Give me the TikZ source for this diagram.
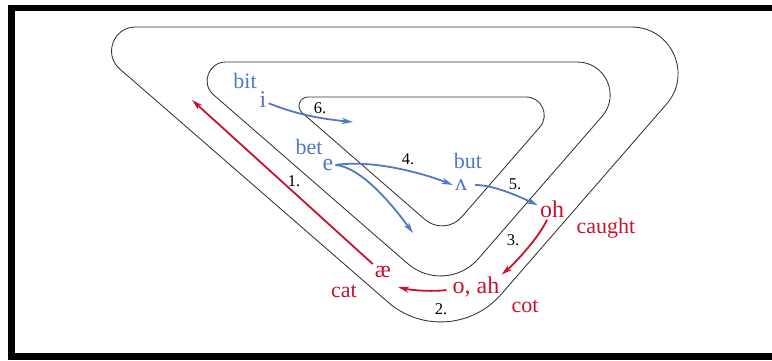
\documentclass[tikz,border=0pt]{standalone}
\usepackage{fontspec}
\setmainfont{Liberation Serif}
\usetikzlibrary{calc,arrows.meta}
\definecolor{vblue}{RGB}{80,120,198}
\definecolor{vred}{RGB}{200,18,48}
\tikzset{
  trackline/.style={line width=0.85pt, draw=black!80, line join=round},
  bword/.style={font=\fontsize{22}{24}\selectfont, text=vblue, inner sep=2pt},
  bsym/.style={font=\fontsize{24}{26}\selectfont, text=vblue, inner sep=2pt},
  rword/.style={font=\fontsize{22}{24}\selectfont, text=vred, inner sep=2pt},
  rsym/.style={font=\fontsize{24}{26}\selectfont, text=vred, inner sep=2pt},
  num/.style={font=\fontsize{16.5}{18}\selectfont, text=black, inner sep=1pt},
  barrow/.style={draw=vblue, line width=1.8pt, -{Stealth[length=11pt,width=6pt,inset=3pt]}},
  rarrow/.style={draw=vred, line width=1.8pt, -{Stealth[length=11pt,width=6pt,inset=3pt]}},
}
\newcommand\rtri[4]{%
  \path ($(#1A)!#2!(#1B)$) coordinate (#1Ab)
        ($(#1A)!#2!(#1C)$) coordinate (#1Ac)
        ($(#1B)!#3!(#1A)$) coordinate (#1Ba)
        ($(#1B)!#3!(#1C)$) coordinate (#1Bc)
        ($(#1C)!#4!(#1A)$) coordinate (#1Ca)
        ($(#1C)!#4!(#1B)$) coordinate (#1Cb);
  \draw[trackline] (#1Ab) -- (#1Ba)
    .. controls ($(#1Ba)!0.391!(#1B)$) and ($(#1Bc)!0.391!(#1B)$) .. (#1Bc)
    -- (#1Cb)
    .. controls ($(#1Cb)!0.552!(#1C)$) and ($(#1Ca)!0.552!(#1C)$) .. (#1Ca)
    -- (#1Ac)
    .. controls ($(#1Ac)!0.346!(#1A)$) and ($(#1Ab)!0.346!(#1A)$) .. (#1Ab) -- cycle;
}
\begin{document}
\begin{tikzpicture}[x=1pt,y=-1pt]
\useasboundingbox (0,0) rectangle (772,360);
% frame
\fill[black] (8,5) rectangle (772,11);
\fill[black] (8,5) rectangle (15,360);
\fill[black] (8,353) rectangle (772,360);
% tracks
\coordinate (oA) at (71.5,27);
\coordinate (oB) at (733.5,27);
\coordinate (oC) at (448.6,354.8);
\coordinate (mA) at (175.8,62);
\coordinate (mB) at (649.3,62);
\coordinate (mC) at (445.5,296.5);
\coordinate (iA) at (284,97);
\coordinate (iB) at (566,97);
\coordinate (iC) at (444.6,236.6);
\rtri{o}{64pt}{102pt}{80pt}
\rtri{m}{50pt}{72pt}{50pt}
\rtri{i}{24pt}{40pt}{26pt}
% labels
\node[bword] (bit) at (245,81) {bit};
\node[bsym] (vi) at (263,100) {i};
\node[num] (n6) at (320,108) {6.};
\node[bword] (bet) at (309,147) {bet};
\node[bsym] (ve) at (328,165) {e};
\node[num] (n4) at (408,159) {4.};
\node[bword] (but) at (468,161) {but};
\node[bsym] (lam) at (461,185) {ʌ};
\node[num] (n5) at (515,184) {5.};
\node[rsym] (oh) at (552,209) {oh};
\node[rword] (caught) at (606,228) {caught};
\node[num] (n3) at (513,240) {3.};
\node[rsym] (oah) at (476,287) {o, ah};
\node[rword] (cot) at (525,306) {cot};
\node[num] (n2) at (441,309) {2.};
\node[rsym] (ae) at (383,272) {æ};
\node[rword] (cat) at (344,291) {cat};
\node[num] (n1) at (294,181) {1.};
% free ends
\coordinate (t6) at (353,122);
\coordinate (tE) at (413,233);
\coordinate (t2) at (398,287);
\coordinate (t1) at (192,100);
% blue arrows
\draw[barrow] (vi.-30) .. controls +(30,12) and +(-30,-3) .. (t6);
\draw[barrow] (ve.east) .. controls +(40,-6) and +(-25,-10) .. (lam.west);
\draw[barrow] (ve.east) .. controls +(25,2) and +(-22,-30) .. (tE);
\draw[barrow] ([xshift=6pt]lam.east) .. controls +(20,0) and +(-15,-7) .. (oh.165);
% red arrows
\draw[rarrow] (oh.-115) .. controls +(-8,18) and +(12,-10) .. (oah.north east);
\draw[rarrow] ([xshift=-4pt,yshift=-3pt]oah.west) .. controls +(-15,2) and +(12,3) .. (t2);
\draw[rarrow] (ae.north west) -- (t1);
\end{tikzpicture}
\end{document}
